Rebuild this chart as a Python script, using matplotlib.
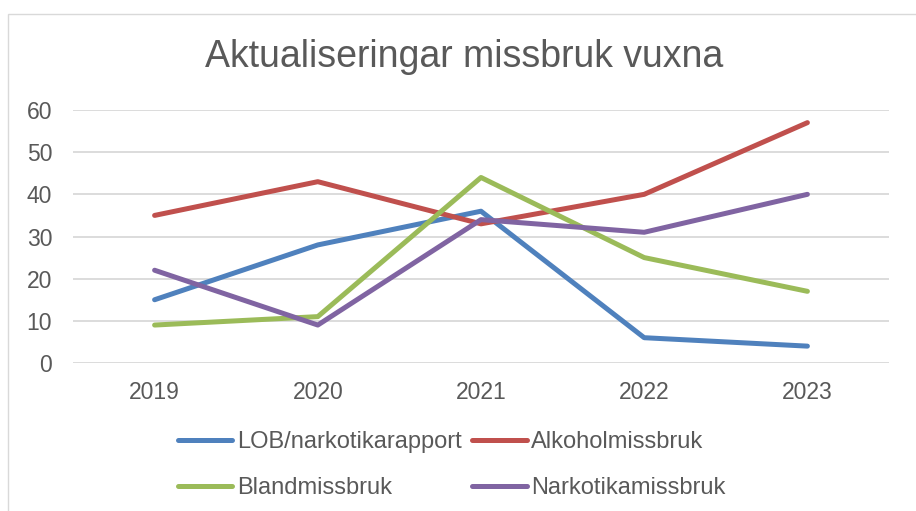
import matplotlib.pyplot as plt
from matplotlib.patches import Rectangle

# data
years = ['2019', '2020', '2021', '2022', '2023']
lob = [15, 28, 36, 6, 4]
alkohol = [35, 43, 33, 40, 57]
bland = [9, 11, 44, 25, 17]
narkotika = [22, 9, 34, 31, 40]

series = [
    ('LOB/narkotikarapport', lob, '#4F81BD'),
    ('Alkoholmissbruk', alkohol, '#C0504D'),
    ('Blandmissbruk', bland, '#9BBB59'),
    ('Narkotikamissbruk', narkotika, '#8064A2'),
]

plt.rcParams['font.family'] = ['Liberation Sans', 'DejaVu Sans']
txt = '#595959'

fig = plt.figure(figsize=(9.16, 5.11), dpi=100)
fig.patches.append(Rectangle((8 / 916, -0.1), 1.0, 1.1 - 14 / 511,
                             transform=fig.transFigure, fill=False,
                             edgecolor='#D9D9D9', linewidth=1.0))

ax = fig.add_axes([73 / 916, 1 - 363 / 511, 816 / 916, 253 / 511])
x = list(range(len(years)))
lines = {}
for name, vals, col in series:
    lines[name], = ax.plot(x, vals, color=col, linewidth=3.6,
                           solid_capstyle='round', solid_joinstyle='round',
                           label=name)

ax.set_xlim(-0.5, len(years) - 0.5)
ax.set_ylim(0, 60)
ax.set_yticks(range(0, 61, 10))
ax.set_xticks(x)
ax.set_xticklabels(years)
ax.grid(axis='y', color='#D9D9D9', linewidth=1.3)
ax.set_axisbelow(True)
for s in ax.spines.values():
    s.set_visible(False)
ax.tick_params(length=0, labelsize=16.5, colors=txt)
ax.tick_params(axis='y', pad=15)
ax.tick_params(axis='x', pad=13)

fig.text(464 / 916, 1 - 57 / 511, 'Aktualiseringar missbruk vuxna',
         ha='center', va='center', fontsize=27, color=txt)

# legend fills column by column, so order for row-wise reading
order = ['LOB/narkotikarapport', 'Blandmissbruk',
         'Alkoholmissbruk', 'Narkotikamissbruk']
leg = fig.legend([lines[n] for n in order], order,
                 loc='center left', bbox_to_anchor=(178 / 916, 1 - 465 / 511),
                 ncol=2, frameon=False, fontsize=17, handlelength=2.3,
                 handletextpad=0.2, columnspacing=0.45, labelspacing=1.0,
                 borderaxespad=0, borderpad=0)
for t in leg.get_texts():
    t.set_color(txt)

fig.savefig('out.png', dpi=100)
